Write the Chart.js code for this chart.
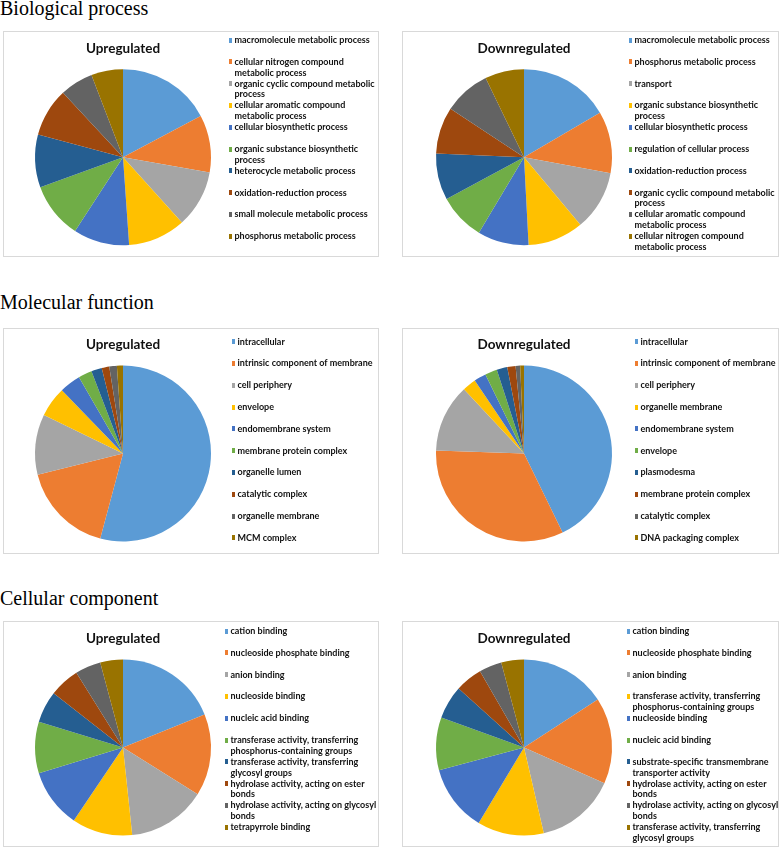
<!DOCTYPE html>
<html>
<head>
<meta charset="utf-8">
<script src="https://cdn.jsdelivr.net/npm/chart.js@4.4.1/dist/chart.umd.min.js"></script>
<style>
  body { margin: 0; background: #fff; width: 780px; height: 847px; position: relative; overflow: hidden; }
  .heading { position: absolute; left: 0; font-family: 'Liberation Serif', 'Times New Roman', serif; font-size: 20px; line-height: 20px; color: #000; white-space: nowrap; }
  .panel { position: absolute; border: 1px solid #d9d9d9; box-sizing: border-box; background: #fff; overflow: hidden; }
  .panel canvas { display: block; }
</style>
</head>
<body>
<div class="heading" style="top:-2px">Biological process</div>
<div class="heading" style="top:292px">Molecular function</div>
<div class="heading" style="top:588px">Cellular component</div>
<script>
// office palette, same order in every pie
const COLORS = ['#5B9BD5', '#ED7D31', '#A5A5A5', '#FFC000', '#4472C4', '#70AD47', '#255E91', '#9E480E', '#636363', '#997300'];

// Biological process
const bpUpLabels = ['macromolecule metabolic process', 'cellular nitrogen compound\nmetabolic process', 'organic cyclic compound metabolic\nprocess', 'cellular aromatic compound\nmetabolic process', 'cellular biosynthetic process', 'organic substance biosynthetic\nprocess', 'heterocycle metabolic process', 'oxidation-reduction process', 'small molecule metabolic process', 'phosphorus metabolic process'];
const bpUpValues = [62, 38, 38, 38, 37, 37, 35, 32, 22, 21];
const bpDownLabels = ['macromolecule metabolic process', 'phosphorus metabolic process', 'transport', 'organic substance biosynthetic\nprocess', 'cellular biosynthetic process', 'regulation of cellular process', 'oxidation-reduction process', 'organic cyclic compound metabolic\nprocess', 'cellular aromatic compound\nmetabolic process', 'cellular nitrogen compound\nmetabolic process'];
const bpDownValues = [60, 41, 40, 37, 34, 31, 31, 31, 31, 26];

// Molecular function
const mfUpLabels = ['intracellular', 'intrinsic component of membrane', 'cell periphery', 'envelope', 'endomembrane system', 'membrane protein complex', 'organelle lumen', 'catalytic complex', 'organelle membrane', 'MCM complex'];
const mfUpValues = [195, 61, 40, 20, 14, 9, 7, 5, 5, 4];
const mfDownLabels = ['intracellular', 'intrinsic component of membrane', 'cell periphery', 'organelle membrane', 'endomembrane system', 'envelope', 'plasmodesma', 'membrane protein complex', 'catalytic complex', 'DNA packaging complex'];
const mfDownValues = [154, 118, 45, 9, 8, 8, 7, 5.5, 3, 2.5];

// Cellular component
const ccUpLabels = ['cation binding', 'nucleoside phosphate binding', 'anion binding', 'nucleoside binding', 'nucleic acid binding', 'transferase activity, transferring\nphosphorus-containing groups', 'transferase activity, transferring\nglycosyl groups', 'hydrolase activity, acting on ester\nbonds', 'hydrolase activity, acting on glycosyl\nbonds', 'tetrapyrrole binding'];
const ccUpValues = [68, 54, 52, 40, 39, 34, 21, 20, 17, 15];
const ccDownLabels = ['cation binding', 'nucleoside phosphate binding', 'anion binding', 'transferase activity, transferring\nphosphorus-containing groups', 'nucleoside binding', 'nucleic acid binding', 'substrate-specific transmembrane\ntransporter activity', 'hydrolase activity, acting on ester\nbonds', 'hydrolase activity, acting on glycosyl\nbonds', 'transferase activity, transferring\nglycosyl groups'];
const ccDownValues = [57, 57, 53, 44, 44, 35, 22, 18, 15, 15];

const PANEL_H = 226;
const TEXT_COLOR = '#111111';
const LEGEND_SIZE = 9;
const LEGEND_LH = 10.9;
const TITLE_SIZE = 13.5;
const TITLE_LH = TITLE_SIZE * 1.2;
const PIE_R = 88;
const SWATCH = 5;

// vertical spots per row, in canvas px: first legend line, title middle, pie centre
const rows = [
    { top: 31, legendY: 8, titleY: 17, pieY: 125.2 },
    { top: 328, legendY: 12.7, titleY: 15.3, pieY: 124.5 },
    { top: 621, legendY: 9, titleY: 16.3, pieY: 125.5 },
];

// legendX = left edge of the colour squares, canvas px
const panels = [
    { row: 0, left: 3, width: 376, cx: 119, legendX: 223, title: 'Upregulated', labels: bpUpLabels, values: bpUpValues },
    { row: 0, left: 402, width: 377, cx: 121, legendX: 224, title: 'Downregulated', labels: bpDownLabels, values: bpDownValues },
    { row: 1, left: 3, width: 376, cx: 119, legendX: 226, title: 'Upregulated', labels: mfUpLabels, values: mfUpValues },
    { row: 1, left: 402, width: 377, cx: 121, legendX: 230, title: 'Downregulated', labels: mfDownLabels, values: mfDownValues },
    { row: 2, left: 3, width: 376, cx: 119, legendX: 219, title: 'Upregulated', labels: ccUpLabels, values: ccUpValues },
    { row: 2, left: 402, width: 377, cx: 121, legendX: 222, title: 'Downregulated', labels: ccDownLabels, values: ccDownValues },
];

// little square swatches, used as legend point styles (keeps the text close to the box)
const swatches = COLORS.map(c => {
    const s = document.createElement('canvas');
    s.width = SWATCH;
    s.height = SWATCH;
    const g = s.getContext('2d');
    g.fillStyle = c;
    g.fillRect(0, 0, SWATCH, SWATCH);
    return s;
});

function legendItems(chart) {
    const ds = chart.data.datasets[0];
    const n = chart.data.labels.length;
    return chart.data.labels.map((label, i) => {
        const lines = label.split('\n');
        // every entry takes two lines, like the excel legend
        if (lines.length < 2 && i < n - 1) lines.push('');
        return {
            text: lines,
            fillStyle: ds.backgroundColor[i],
            strokeStyle: ds.backgroundColor[i],
            lineWidth: 0,
            pointStyle: swatches[i],
            fontColor: TEXT_COLOR,
            hidden: false,
            index: i
        };
    });
}

function makePie(p) {
    const r = rows[p.row];
    const wrap = document.createElement('div');
    wrap.className = 'panel';
    wrap.style.left = p.left + 'px';
    wrap.style.top = r.top + 'px';
    wrap.style.width = p.width + 'px';
    wrap.style.height = PANEL_H + 'px';
    const canvas = document.createElement('canvas');
    const W = p.width - 2, H = PANEL_H - 2;
    canvas.width = W;
    canvas.height = H;
    canvas.style.width = W + 'px';
    canvas.style.height = H + 'px';
    wrap.appendChild(canvas);
    document.body.appendChild(wrap);

    const padTop = r.legendY - LEGEND_SIZE / 2;
    const titleTop = r.titleY - padTop - TITLE_LH / 2;
    const titleBottom = 2 * r.pieY - H - (padTop + titleTop + TITLE_LH);

    const chart = new Chart(canvas, {
        type: 'pie',
        data: {
            labels: p.labels,
            datasets: [{
                data: p.values,
                backgroundColor: COLORS,
                borderWidth: 0,
                hoverOffset: 0,
                radius: PIE_R
            }]
        },
        options: {
            responsive: false,
            animation: false,
            layout: { padding: { top: padTop, bottom: 0, left: 15, right: 7 } },
            plugins: {
                tooltip: { enabled: false },
                title: {
                    display: true,
                    text: p.title,
                    fullSize: false,
                    color: TEXT_COLOR,
                    font: { family: 'Lato', size: TITLE_SIZE, weight: 'bold', lineHeight: 1.2 },
                    padding: { top: titleTop, bottom: titleBottom }
                },
                legend: {
                    position: 'right',
                    align: 'start',
                    labels: {
                        usePointStyle: true,
                        boxWidth: 1,
                        boxHeight: SWATCH,
                        padding: 0,
                        color: TEXT_COLOR,
                        font: { family: 'Lato', size: LEGEND_SIZE, weight: 'bold', lineHeight: LEGEND_LH + 'px' },
                        generateLabels: legendItems
                    }
                }
            }
        }
    });

    // second pass: pin the legend squares and the pie centre
    // (the swatch is centred on legend.left + 0.5, so it sits 2px left of it)
    const legendLeft = p.legendX + (SWATCH - 1) / 2;
    chart.options.layout.padding.left = 2 * p.cx - legendLeft;
    chart.options.layout.padding.right = W - legendLeft - chart.legend.width;
    chart.update();
}

panels.forEach(makePie);
</script>
</body>
</html>
